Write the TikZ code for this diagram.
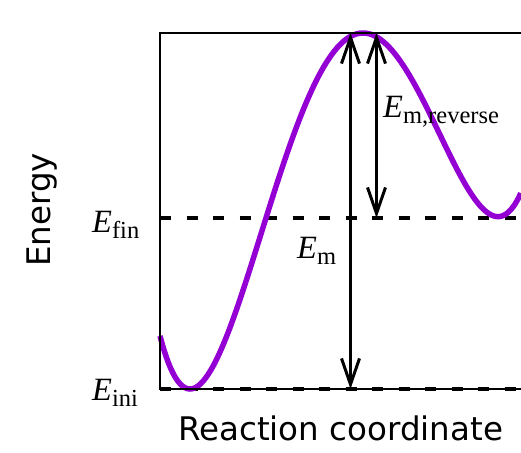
\documentclass[tikz,border=0pt]{standalone}
\usepackage{fontspec}
\setmainfont{Liberation Serif}
\newfontfamily\dejavu{DejaVu Sans}
\usetikzlibrary{arrows.meta}
\definecolor{curvecol}{RGB}{148,0,211}
\tikzset{
  spine/.style={line width=2pt, black},
  levelline/.style={line width=4pt, black, dash pattern=on 11pt off 15.5pt},
  energycurve/.style={line width=5.5pt, curvecol},
  dimarrow/.style={line width=3pt, black, {Straight Barb[length=26pt,width=18pt,line width=3pt]}-{Straight Barb[length=26pt,width=18pt,line width=3pt]}},
  elabel/.style={inner sep=0pt, anchor=base west, font=\fontsize{32.5}{34}\selectfont},
  axlabel/.style={inner sep=0pt, anchor=base, font=\dejavu\fontsize{32.5}{34}\selectfont},
}
\newcommand{\subtxt}[1]{\raisebox{-6.5pt}{\fontsize{24.5}{25}\selectfont #1}}
\begin{document}
\begin{tikzpicture}[x=1pt,y=-1pt]
  \useasboundingbox (0,0) rectangle (521,452);
  % frame corners
  \coordinate (tl) at (160,33);
  \coordinate (tr) at (521,33);
  \coordinate (bl) at (160,389);
  \coordinate (br) at (521,389);
  \coordinate (fl) at (160,218);
  \coordinate (fr) at (521,218);
  % level lines
  \draw[levelline] (fl) -- (fr);
  \draw[levelline] (bl) -- (br);
  % energy curve (quartic)
  \draw[energycurve, domain=-0.3:3.31, samples=160, smooth, variable=\u]
    plot ({190+100*\u}, {389-186.25*(\u*\u*\u*\u/4-1.60333*\u*\u*\u+2.6642*\u*\u)});
  % spines
  \draw[spine] (tr) -- (tl) -- (bl) -- (br);
  % arrows
  \coordinate (emtop) at (350.5,33);
  \coordinate (embot) at (350.5,389);
  \coordinate (revtop) at (376.5,33);
  \coordinate (revbot) at (376.5,218);
  \draw[dimarrow] (embot) -- (emtop);
  \draw[dimarrow] (revtop) -- (revbot);
  % labels
  \node[elabel] (efin) at (92,232) {\textit{E}\subtxt{fin}};
  \node[elabel] (eini) at (92,400) {\textit{E}\subtxt{ini}};
  \node[elabel] (em) at (297,258) {\textit{E}\subtxt{m}};
  \node[elabel] (emrev) at (383,117) {\textit{E}\subtxt{m,reverse}};
  \node[axlabel, rotate=90] (ylab) at (50,210) {Energy};
  \node[axlabel] (xlab) at (340.5,440) {Reaction coordinate};
\end{tikzpicture}
\end{document}
